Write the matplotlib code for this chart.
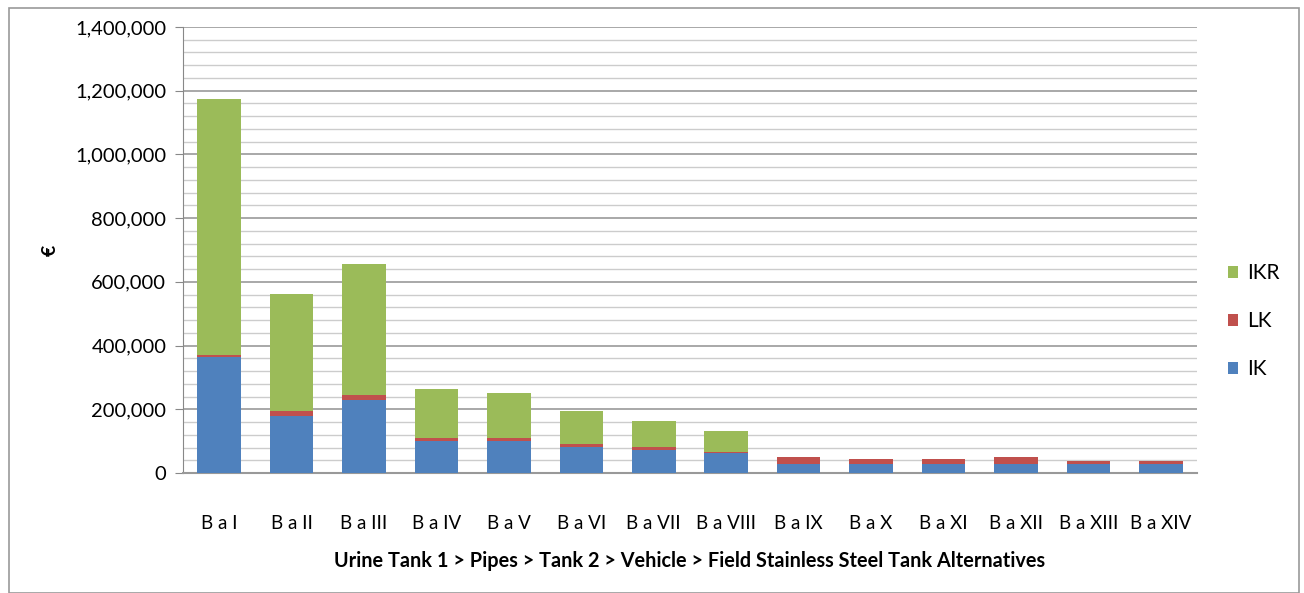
import matplotlib.pyplot as plt
import numpy as np
from matplotlib.patches import Rectangle
from matplotlib.ticker import FuncFormatter, MultipleLocator

plt.rcParams['font.family'] = ['Lato', 'DejaVu Sans']

# values (euro)
alternatives = ['B a I', 'B a II', 'B a III', 'B a IV', 'B a V', 'B a VI', 'B a VII',
                'B a VIII', 'B a IX', 'B a X', 'B a XI', 'B a XII', 'B a XIII', 'B a XIV']
ik = [364000, 179000, 229000, 99000, 99000, 82000, 73000, 63000, 29000, 29000, 29000, 29000, 29000, 29000]
lk = [6000, 16000, 17000, 11000, 11000, 9000, 9000, 4000, 21000, 15000, 15000, 21000, 9000, 9000]
ikr = [804000, 367000, 410000, 154000, 141000, 104000, 81000, 65000, 0, 0, 0, 0, 0, 0]

c_ik = '#4f81bd'
c_lk = '#c0504d'
c_ikr = '#9bbb59'

fig = plt.figure(figsize=(13.04, 5.93), dpi=100)
ax = fig.add_axes([183 / 1304, 1 - 473 / 593, (1197 - 183) / 1304, (473 - 27) / 593])

x = np.arange(len(alternatives))
w = 0.6
b_ik = ax.bar(x, ik, w, color=c_ik, label='IK', zorder=3)
b_lk = ax.bar(x, lk, w, bottom=ik, color=c_lk, label='LK', zorder=3)
b_ikr = ax.bar(x, ikr, w, bottom=np.array(ik) + np.array(lk), color=c_ikr, label='IKR', zorder=3)

ax.set_xlim(-0.5, len(alternatives) - 0.5)
ax.set_ylim(0, 1400000)
ax.yaxis.set_major_locator(MultipleLocator(200000))
ax.yaxis.set_minor_locator(MultipleLocator(40000))
ax.yaxis.set_major_formatter(FuncFormatter(lambda v, p: f'{int(v):,}'))
ax.grid(axis='y', which='major', color='#999999', linewidth=1.2, zorder=0)
ax.grid(axis='y', which='minor', color='#cccccc', linewidth=1.0, zorder=0)

for s in ['top', 'right']:
    ax.spines[s].set_visible(False)
ax.spines['left'].set_color('#888888')
ax.spines['bottom'].set_color('#999999')
ax.spines['bottom'].set_linewidth(1.5)

ax.set_xticks(x)
ax.set_xticklabels(alternatives, fontsize=13.5)
ax.tick_params(axis='x', length=0, pad=30)
ax.tick_params(axis='y', which='major', labelsize=14.5, length=6, color='#888888', pad=6)
ax.tick_params(axis='y', which='minor', length=0)

ax.set_xlabel('Urine Tank 1 > Pipes > Tank 2 > Vehicle > Field Stainless Steel Tank Alternatives',
              fontsize=14.3, fontweight='bold', labelpad=14)
ax.set_ylabel('€', fontsize=14, fontweight='bold', labelpad=12)

ax.legend(handles=[b_ikr, b_lk, b_ik], loc='center left', bbox_to_anchor=(1.012, 0.34),
          frameon=False, fontsize=15, handlelength=0.5, handleheight=0.5,
          labelspacing=1.35, handletextpad=0.4)

fig.patches.append(Rectangle((9 / 1304, 0), 1290 / 1304, 1 - 8 / 593, transform=fig.transFigure,
                             fill=False, edgecolor='#999999', linewidth=1.2))

fig.savefig('out.png', dpi=100)
